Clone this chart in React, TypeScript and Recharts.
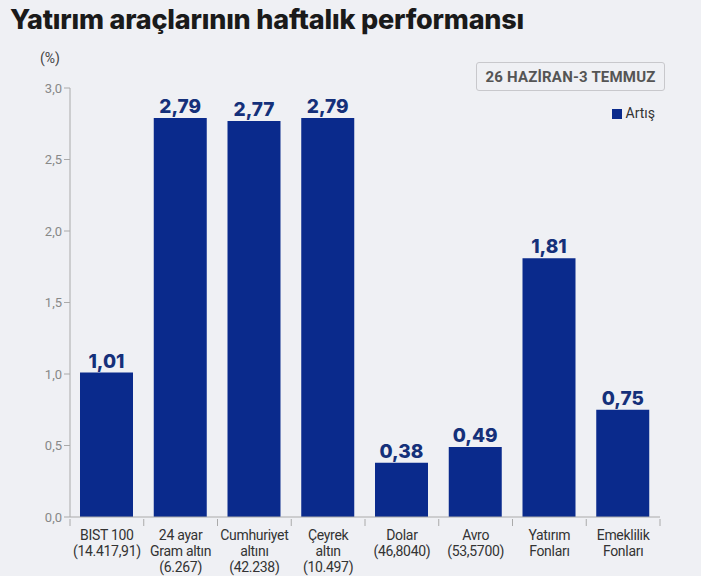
import React from 'react'
import { BarChart, Bar, XAxis, YAxis, LabelList, Legend } from 'recharts'

const categories = [
  'BIST 100\n(14.417,91)',
  '24 ayar\nGram altın\n(6.267)',
  'Cumhuriyet\naltını\n(42.238)',
  'Çeyrek\naltın\n(10.497)',
  'Dolar\n(46,8040)',
  'Avro\n(53,5700)',
  'Yatırım\nFonları',
  'Emeklilik\nFonları',
]
const artis = [1.01, 2.79, 2.77, 2.79, 0.38, 0.49, 1.81, 0.75]
const yTicks = [0, 0.5, 1, 1.5, 2, 2.5, 3]

const data = categories.map((name, i) => ({ name, artis: artis[i] }))

const BAR = '#0a2a8c'
const BG = '#eff0f4'
const comma = (v: number, d: number) => v.toFixed(d).replace('.', ',')

function XTick({ x, y, payload, width, visibleTicksCount }: any) {
  const lines = String(payload.value).split('\n')
  const band = width / (visibleTicksCount || categories.length)
  return (
    <g>
      <line x1={x + band / 2} x2={x + band / 2} y1={y - 6} y2={y + 1} stroke="#aaa" />
      {payload.index === 0 && <line x1={x - band / 2} x2={x - band / 2} y1={y - 6} y2={y + 1} stroke="#aaa" />}
      <text x={x} y={y + 15} textAnchor="middle" fontSize={14} fill="#333" fontFamily="Roboto" letterSpacing={-0.3}>
        {lines.map((l, i) => (
          <tspan key={i} x={x} dy={i === 0 ? 0 : 16}>{l}</tspan>
        ))}
      </text>
    </g>
  )
}

export default function App() {
  return (
    <div style={{ position: 'fixed', left: 0, top: 0, width: 701, height: 576, background: BG, fontFamily: 'Roboto' }}>
      <div style={{ position: 'absolute', left: 10, top: 3, fontFamily: 'Inter', fontWeight: 800, fontSize: 27, color: '#1a1a1a', letterSpacing: -0.2 }}>
        Yatırım araçlarının haftalık performansı
      </div>
      <div style={{ position: 'absolute', left: 40, top: 50, fontSize: 14, color: '#444' }}>(%)</div>
      <div style={{ position: 'absolute', left: 476, top: 62, width: 187, height: 27, border: '1px solid #c8c8cc', borderRadius: 3, display: 'flex', alignItems: 'center', justifyContent: 'center', fontWeight: 700, fontSize: 15, color: '#555', letterSpacing: 0.2 }}>
        26 HAZİRAN-3 TEMMUZ
      </div>
      <BarChart width={701} height={576} data={data} margin={{ top: 69, right: 41, left: 20, bottom: 0 }}>
        <XAxis
          dataKey="name"
          interval={0}
          height={59}
          tickLine={false}
          axisLine={{ stroke: '#aaa' }}
          tick={<XTick />}
        />
        <YAxis
          width={50}
          domain={[0, 3]}
          ticks={yTicks}
          tickFormatter={(v) => comma(v, 1)}
          tick={{ fontSize: 13, fill: '#888', fontFamily: 'Roboto' }}
          tickLine={{ stroke: '#aaa' }}
          axisLine={{ stroke: '#aaa' }}
          tickSize={6}
          tickMargin={2}
        />
        <Legend
          verticalAlign="top"
          align="right"
          iconType="square"
          iconSize={10}
          wrapperStyle={{ top: 103, right: 36, left: 'auto', width: 'auto' }}
          formatter={(v) => <span style={{ color: '#333', fontSize: 14 }}>{v}</span>}
        />
        <Bar dataKey="artis" name="Artış" fill={BAR} barSize={53} isAnimationActive={false}>
          <LabelList
            dataKey="artis"
            position="top"
            offset={5}
            formatter={(v: any) => comma(Number(v), 2)}
            style={{ fontSize: 19, fontWeight: 800, fill: '#15307a', fontFamily: 'Inter' }}
          />
        </Bar>
      </BarChart>
    </div>
  )
}
